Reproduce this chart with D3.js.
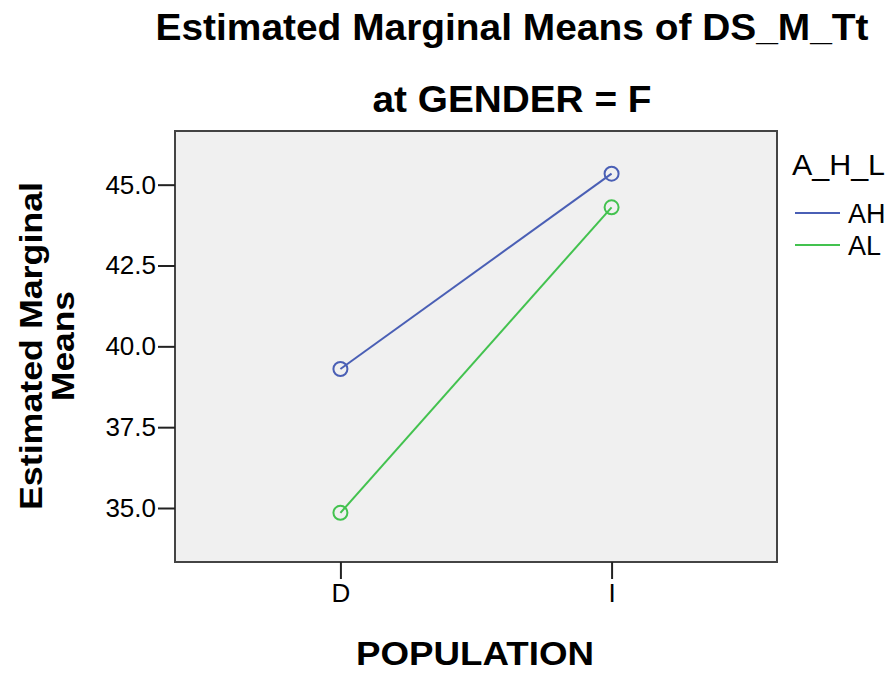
<!DOCTYPE html>
<html>
<head>
<meta charset="utf-8">
<script src="https://cdn.jsdelivr.net/npm/d3@7"></script>
<style>
  body { margin: 0; background: #fff; }
  svg text { font-family: "Liberation Sans", Arial, sans-serif; fill: #000; }
</style>
</head>
<body>
<div id="chart"></div>
<script>
// data
const populations = ['D', 'I'];
const groups = ['AH', 'AL'];
const ahMeans = [39.3, 45.34];
const alMeans = [34.85, 44.3];
const yTicks = [35.0, 37.5, 40.0, 42.5, 45.0];
const groupColors = ['#4a5fb5', '#43c24f'];

const width = 892, height = 674;
const plot = { left: 175, right: 777, top: 131, bottom: 562 };

const svg = d3.select('#chart').append('svg')
    .attr('width', width)
    .attr('height', height);

// Scales
const xScale = d3.scalePoint()
    .domain(populations)
    .range([plot.left, plot.right])
    .padding(0.61);

const yScale = d3.scaleLinear()
    .domain([33.33, 46.66])
    .range([plot.bottom, plot.top]);

// plot background
svg.append('rect')
    .attr('x', plot.left)
    .attr('y', plot.top)
    .attr('width', plot.right - plot.left)
    .attr('height', plot.bottom - plot.top)
    .attr('fill', '#f0f0f0')
    .attr('stroke', '#444')
    .attr('stroke-width', 2);

// y axis
const yAxis = d3.axisLeft(yScale)
    .tickValues(yTicks)
    .tickFormat(d3.format('.1f'))
    .tickSize(17)
    .tickPadding(2);

const gy = svg.append('g')
    .attr('transform', `translate(${plot.left}, 0)`)
    .call(yAxis);
gy.select('.domain').remove();
gy.selectAll('line').attr('stroke', '#222').attr('stroke-width', 2);
gy.selectAll('text').style('font-size', '26px').attr('fill', '#222');

// x axis
const xAxis = d3.axisBottom(xScale)
    .tickSize(17)
    .tickPadding(5);

const gx = svg.append('g')
    .attr('transform', `translate(0, ${plot.bottom})`)
    .call(xAxis);
gx.select('.domain').remove();
gx.selectAll('line').attr('stroke', '#222').attr('stroke-width', 2);
gx.selectAll('text').style('font-size', '26px').attr('fill', '#222');

// lines + markers
const series = [
    { name: groups[0], values: ahMeans, color: groupColors[0] },
    { name: groups[1], values: alMeans, color: groupColors[1] }
];

const line = d3.line()
    .x((d, i) => xScale(populations[i]))
    .y(d => yScale(d));

series.forEach(s => {
    svg.append('path')
        .datum(s.values)
        .attr('d', line)
        .attr('fill', 'none')
        .attr('stroke', s.color)
        .attr('stroke-width', 2);

    svg.selectAll(null)
        .data(s.values)
        .enter().append('circle')
        .attr('cx', (d, i) => xScale(populations[i]))
        .attr('cy', d => yScale(d))
        .attr('r', 7)
        .attr('fill', 'none')
        .attr('stroke', s.color)
        .attr('stroke-width', 2);
});

// titles
svg.append('text')
    .attr('x', 512).attr('y', 40)
    .attr('text-anchor', 'middle')
    .style('font-size', '37px').style('font-weight', 'bold')
    .attr('textLength', 713).attr('lengthAdjust', 'spacingAndGlyphs')
    .text('Estimated Marginal Means of DS_M_Tt');

svg.append('text')
    .attr('x', 512).attr('y', 112)
    .attr('text-anchor', 'middle')
    .style('font-size', '37px').style('font-weight', 'bold')
    .attr('textLength', 279).attr('lengthAdjust', 'spacingAndGlyphs')
    .text('at GENDER = F');

svg.append('text')
    .attr('x', 475).attr('y', 665)
    .attr('text-anchor', 'middle')
    .style('font-size', '33px').style('font-weight', 'bold')
    .attr('textLength', 238).attr('lengthAdjust', 'spacingAndGlyphs')
    .text('POPULATION');

const yLabel = svg.append('text')
    .attr('transform', 'translate(0, 346) rotate(-90)')
    .attr('text-anchor', 'middle')
    .style('font-size', '32px').style('font-weight', 'bold');
yLabel.append('tspan').attr('x', 0).attr('y', 42)
    .attr('textLength', 328).attr('lengthAdjust', 'spacingAndGlyphs')
    .text('Estimated Marginal');
yLabel.append('tspan').attr('x', 0).attr('y', 74)
    .attr('textLength', 110).attr('lengthAdjust', 'spacingAndGlyphs')
    .text('Means');

// legend
svg.append('text')
    .attr('x', 792).attr('y', 175)
    .style('font-size', '29px')
    .attr('fill', '#222')
    .attr('textLength', 93).attr('lengthAdjust', 'spacingAndGlyphs')
    .text('A_H_L');

series.forEach((s, i) => {
    const ly = 213 + i * 32;
    svg.append('line')
        .attr('x1', 795).attr('x2', 840)
        .attr('y1', ly).attr('y2', ly)
        .attr('stroke', s.color)
        .attr('stroke-width', 2);
    svg.append('text')
        .attr('x', 848).attr('y', ly + 10)
        .style('font-size', '27px')
        .attr('fill', '#222')
        .text(s.name);
});
</script>
</body>
</html>
